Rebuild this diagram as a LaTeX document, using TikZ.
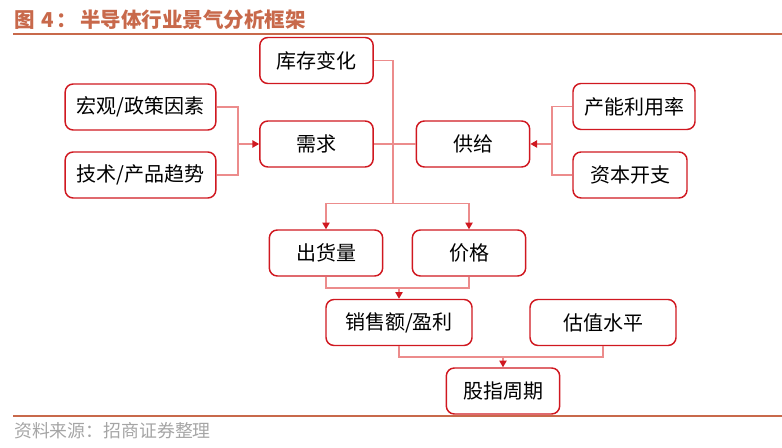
\documentclass[tikz,border=0pt]{standalone}
\usepackage{fontspec}
\newfontfamily\cjk{Noto Sans CJK SC}
\usetikzlibrary{arrows.meta}
\definecolor{boxred}{RGB}{208,24,32}
\definecolor{linkred}{RGB}{236,140,140}
\definecolor{titlebrown}{RGB}{200,105,75}
\definecolor{srcgray}{RGB}{165,165,165}
\tikzset{
  box/.style={draw=boxred, line width=1.1pt, rounded corners=6pt, minimum height=34.5pt, inner sep=0pt, font=\cjk\fontsize{15}{15}\selectfont},
  link/.style={draw=linkred, line width=0.9pt},
  arr/.style={link, -{Triangle[length=5pt,width=5.5pt,color=boxred]}}
}
\begin{document}
\begin{tikzpicture}[x=0.75pt,y=0.75pt,yscale=-1,xscale=1]
\useasboundingbox (0,0) rectangle (782,448);

% Title and rules
\node [anchor=west, inner sep=0pt, text=titlebrown, font=\cjk\bfseries\fontsize{15.4}{15.4}\selectfont] (title) at (14,20) {图\hspace{0.35em}4\hspace{0.1em}：\hspace{0.15em}半导体行业景气分析框架};
\draw [titlebrown, line width=1.5pt] (13,34.5) -- (782,34.5);
\draw [titlebrown, line width=1.5pt] (13,416.5) -- (782,416.5);
\node [anchor=west, inner sep=0pt, text=srcgray, font=\cjk\fontsize{13.4}{13.4}\selectfont] (source) at (14,431) {资料来源：招商证券整理};

% Boxes
\node [box, minimum width=85pt] (stock) at (316.5,60.5) {库存变化};
\node [box, minimum width=113pt] (macro) at (140.5,107) {宏观/政策因素};
\node [box, minimum width=113pt] (tech) at (140.5,175) {技术/产品趋势};
\node [box, minimum width=85pt] (demand) at (316.5,144) {需求};
\node [box, minimum width=85pt] (supply) at (473,144) {供给};
\node [box, minimum width=91.5pt] (capacity) at (634,106.5) {产能利用率};
\node [box, minimum width=85.5pt] (capex) at (630,175) {资本开支};
\node [box, minimum width=85pt] (shipment) at (326,253) {出货量};
\node [box, minimum width=85pt] (price) at (469,253) {价格};
\node [box, minimum width=109.5pt] (sales) at (399,322.5) {销售额/盈利};
\node [box, minimum width=109.5pt] (valuation) at (603,322.5) {估值水平};
\node [box, minimum width=85pt] (index) at (503,391) {股指周期};

% Junctions
\coordinate (djoin) at (238,144);
\coordinate (sjoin) at (552,144);
\coordinate (hub) at (393,203.5);
\coordinate (pjoin) at (399,288);
\coordinate (ijoin) at (503,357);

% Connectors
\draw [link] (macro.east) -| (djoin) |- (tech.east);
\draw [arr] (djoin) -- (demand.west);
\draw [link] (capacity.west) -| (sjoin) |- (capex.west);
\draw [arr] (sjoin) -- (supply.east);
\draw [link] (stock.east) -| (hub);
\draw [link] (demand.east) -- (supply.west);
\draw [arr] (hub) -| (shipment.north);
\draw [arr] (hub) -| (price.north);
\draw [link] (shipment.south) |- (pjoin) -| (price.south);
\draw [arr] (pjoin) -- (sales.north);
\draw [link] (sales.south) |- (ijoin) -| (valuation.south);
\draw [arr] (ijoin) -- (index.north);

\end{tikzpicture}
\end{document}
